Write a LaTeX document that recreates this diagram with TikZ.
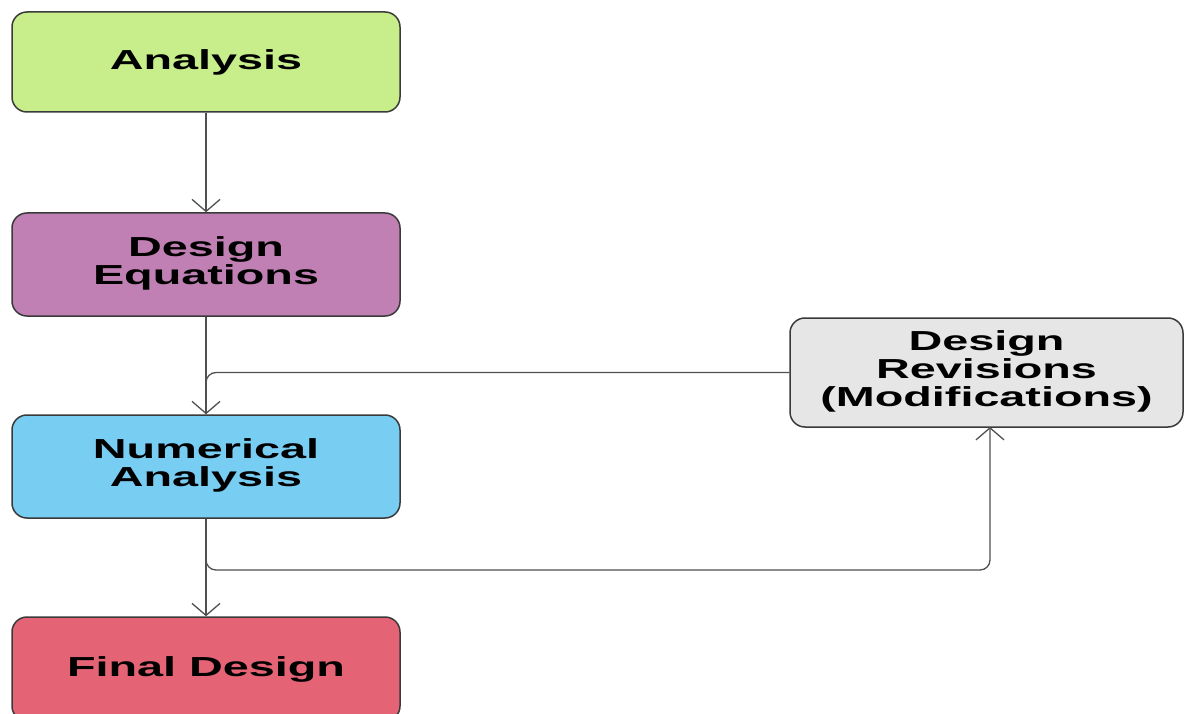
\documentclass[tikz,border=0pt]{standalone}
\usepackage{fontspec}
\newfontfamily\lbl{Liberation Sans}[FakeStretch=1.7]
\usetikzlibrary{arrows.meta,calc}
\definecolor{cAna}{HTML}{C8EE8C}
\definecolor{cDeq}{HTML}{C080B4}
\definecolor{cNum}{HTML}{78CDF2}
\definecolor{cFin}{HTML}{E46476}
\definecolor{cRev}{HTML}{E6E6E6}
\definecolor{cEdge}{HTML}{3A3A3A}
\definecolor{cLine}{HTML}{505050}
\tikzset{
  box/.style={draw=cEdge, line width=1.5pt, rounded corners=15pt, minimum width=388pt, minimum height=100pt,
    align=center, inner sep=0pt, font=\lbl\bfseries\fontsize{27.5}{28}\selectfont},
  conn/.style={draw=cLine, line width=1.3pt, -{Straight Barb[length=12pt,width=28pt,line width=1.3pt]}},
  plain/.style={draw=cLine, line width=1.3pt, rounded corners=10pt}
}
\begin{document}
\begin{tikzpicture}[x=1pt,y=-1pt]
\path[use as bounding box, clip] (0,0) rectangle (1184,714);
\fill[white] (0,0) rectangle (1184,714);
\node[box, fill=cAna] (ana) at (206,62) {\raisebox{5pt}{Analysis}};
\node[box, fill=cDeq, minimum height=103pt] (deq) at (206,264.5) {\raisebox{5pt}{\begin{tabular}{@{}c@{}}Design\\[0pt]Equations\end{tabular}}};
\node[box, fill=cNum, minimum height=103pt] (num) at (206,466.5) {\raisebox{5pt}{\begin{tabular}{@{}c@{}}Numerical\\[0pt]Analysis\end{tabular}}};
\node[box, fill=cFin, minimum height=104pt] (fin) at (206,669) {\raisebox{5pt}{Final Design}};
\node[box, fill=cRev, minimum width=393pt, minimum height=109pt] (rev) at (986.5,372.5) {\begin{tabular}{@{}c@{}}Design\\[-0.5pt]Revisions\\[-0.5pt](Modifications)\end{tabular}};
\coordinate (turn) at (600,570);
\coordinate (revin) at (990,427);
\draw[conn] (ana) -- (deq);
\draw[conn] (deq) -- (num);
\draw[plain] (rev.west) -| (num.north);
\draw[conn] (num) -- (fin);
\draw[plain, -{Straight Barb[length=12pt,width=28pt,line width=1.3pt]}] (num.south) |- (turn) -| (revin);
\end{tikzpicture}
\end{document}
